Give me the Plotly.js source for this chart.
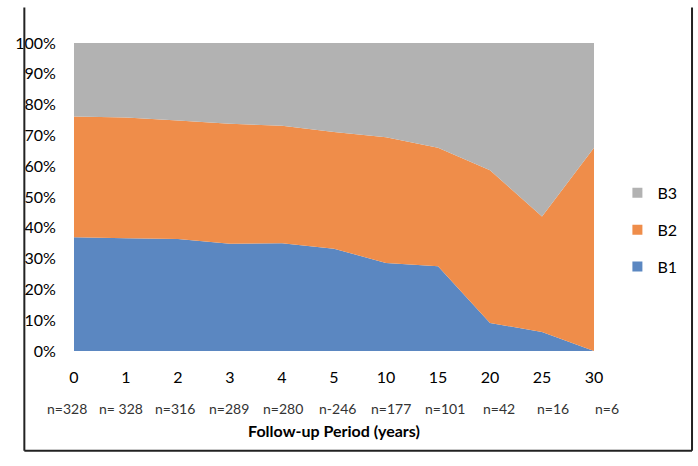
<!DOCTYPE html>
<html>
<head>
<meta charset="utf-8">
<script src="https://cdn.plot.ly/plotly-3.0.1.min.js"></script>
<style>html,body{margin:0;padding:0;background:#fff;}#chart{width:698px;height:466px;}</style>
</head>
<body>
<div id="chart"></div>
<script>
// Follow-up period categories (years)
var years = ['0', '1', '2', '3', '4', '5', '10', '15', '20', '25', '30'];
// Sample sizes at each time point
var nLabels = ['n=328', 'n= 328', 'n=316', 'n=289', 'n=280', 'n-246', 'n=177', 'n=101', 'n=42', 'n=16', 'n=6'];
// Percent share of each group
var b1 = [36.9, 36.6, 36.4, 34.8, 35.0, 33.2, 28.6, 27.5, 9.1, 6.2, 0.0];
var b2 = [39.2, 39.2, 38.4, 39.0, 38.1, 37.9, 40.8, 38.5, 49.6, 37.5, 66.0];
var b3 = [23.9, 24.2, 25.2, 26.2, 26.9, 28.9, 30.6, 34.0, 41.3, 56.3, 34.0];

var names = ['B1', 'B2', 'B3'];
var series = [b1, b2, b3];
var colors = ['#5b87c1', '#ef8d4a', '#b2b2b2'];
var FONT = 'Lato, "Open Sans", sans-serif';

var traces = [];
series.forEach(function (vals, i) {
  traces.push({
    type: 'scatter', x: years, y: vals, name: names[i],
    stackgroup: 'one', mode: 'none', fillcolor: colors[i],
    line: {width: 0}, showlegend: false, hoverinfo: 'x+y+name'
  });
});
// legend entries (square swatches), top to bottom: B3, B2, B1
[2, 1, 0].forEach(function (i) {
  traces.push({
    type: 'scatter', x: [null], y: [null], name: names[i], mode: 'markers',
    marker: {symbol: 'square', size: 10, color: colors[i]},
    legendgroup: names[i], showlegend: true
  });
});

var annotations = nLabels.map(function (t, i) {
  return {
    text: t, x: i, xref: 'x', y: 0, yref: 'paper', yanchor: 'middle',
    yshift: -57, xshift: -7 + 2.0 * i, showarrow: false,
    font: {family: FONT, size: 14, color: '#333'}
  };
});

var layout = {
  width: 698, height: 466,
  margin: {l: 74, r: 104, t: 43, b: 115},
  paper_bgcolor: '#fff', plot_bgcolor: '#fff',
  font: {family: FONT, color: '#000'},
  showlegend: true,
  legend: {
    x: 1.045, xanchor: 'left', y: 0.393, yanchor: 'middle',
    traceorder: 'grouped', tracegroupgap: 13,
    font: {family: FONT, size: 16, color: '#000'},
    itemwidth: 30, bgcolor: 'rgba(0,0,0,0)'
  },
  xaxis: {
    type: 'category', range: [0, 10], showgrid: false, zeroline: false,
    showline: false, ticks: 'outside', ticklen: 12, tickcolor: 'rgba(0,0,0,0)',
    tickfont: {family: FONT, size: 16, color: '#000'}, fixedrange: true,
    title: {text: '<b>Follow-up Period (years)</b>', standoff: 40,
      font: {family: FONT, size: 16, color: '#000'}},
    automargin: false
  },
  yaxis: {
    range: [0, 100], dtick: 10, ticksuffix: '%', showgrid: false, zeroline: false,
    showline: false, ticks: 'outside', ticklen: 14, tickcolor: 'rgba(0,0,0,0)',
    tickfont: {family: FONT, size: 16, color: '#000'}, fixedrange: true,
    automargin: false
  },
  annotations: annotations,
  shapes: [
    {type: 'line', xref: 'paper', yref: 'paper', x0: -0.0955, x1: -0.0955, y0: 1.115, y1: -0.324, line: {color: '#222', width: 2}},
    {type: 'line', xref: 'paper', yref: 'paper', x0: 1.1885, x1: 1.1885, y0: 1.115, y1: -0.324, line: {color: '#222', width: 2}},
    {type: 'line', xref: 'paper', yref: 'paper', x0: -0.0955, x1: 1.1885, y0: -0.324, y1: -0.324, line: {color: '#222', width: 2}}
  ]
};

Plotly.newPlot('chart', traces, layout, {displayModeBar: false, staticPlot: true});
</script>
</body>
</html>
